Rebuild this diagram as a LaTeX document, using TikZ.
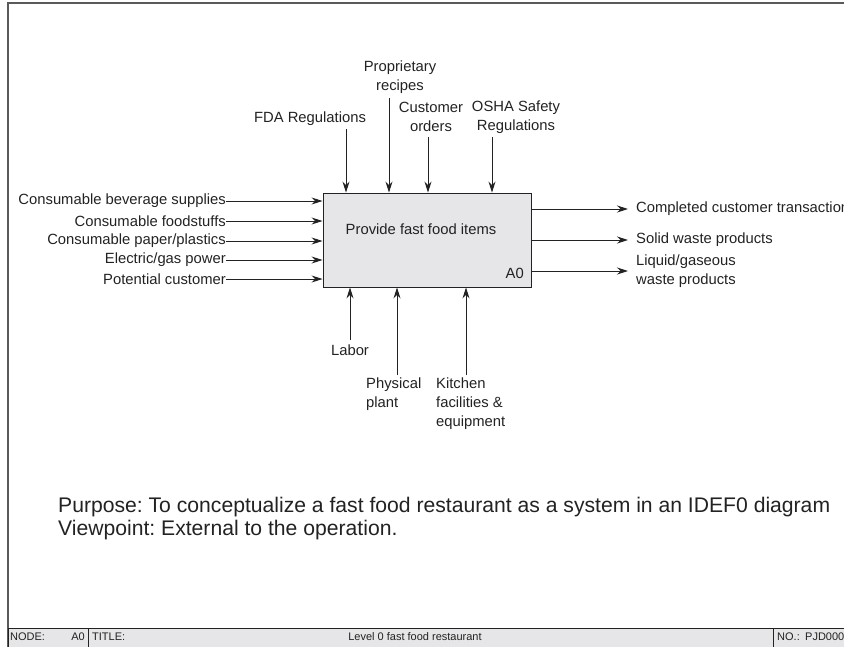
\documentclass[tikz,border=0pt]{standalone}
\usepackage{fontspec}
\setmainfont{Liberation Sans}
\usetikzlibrary{arrows.meta}
\definecolor{ink}{HTML}{222222}
\definecolor{framegray}{HTML}{5A5A5A}
\definecolor{boxfill}{HTML}{E6E6E8}
\frenchspacing
\newcommand\purposetext{Purpose: To conceptualize a fast food restaurant as a system in an IDEF0 diagram}
\newlength\purposewd
\begin{document}
% size the purpose line so that it spans 772pt
\settowidth{\purposewd}{\fontsize{20}{22}\selectfont\purposetext}
\pgfmathsetmacro\purposesize{20*772/\purposewd}
\begin{tikzpicture}[x=1pt,y=-1pt,
  flow/.style={draw=ink, line width=0.9pt, -{Stealth[length=11pt,width=7pt]}},
  lbl/.style={font=\fontsize{14.8}{19}\selectfont, text=ink, inner sep=0pt},
  bartext/.style={font=\fontsize{11}{12}\selectfont, text=ink, inner sep=0pt},
  bigtext/.style={font=\fontsize{\purposesize}{22}\selectfont, text=ink, inner sep=0pt, anchor=base west}]
\useasboundingbox (0,0) rectangle (844,646);
\clip (0,0) rectangle (844,646);

% sheet frame
\draw[framegray, line width=1.6pt] (8,660) |- (860,3);

% title bar
\draw[fill=boxfill, draw=ink, line width=0.8pt] (8,628) rectangle (860,660);
\draw[ink, line width=0.8pt] (88,628) -- (88,660) (773,628) -- (773,660);
\node[bartext, anchor=west] (nodelbl) at (10,637) {NODE:};
\node[bartext, anchor=east] (nodeval) at (85,637) {A0};
\node[bartext, anchor=west] (titlelbl) at (92,637) {TITLE:};
\node[bartext] (titleval) at (415,637) {Level 0 fast food restaurant};
\node[bartext, anchor=west] (nolbl) at (777,637) {NO.:};
\node[bartext, anchor=west] (noval) at (805,637) {PJD000};

% activity box
\node[draw=ink, fill=boxfill, line width=0.9pt, minimum width=208pt, minimum height=94pt, inner sep=0pt] (A0) at (427,240) {};
\node[lbl] (A0title) at (421,229) {Provide fast food items};
\node[lbl, anchor=south east] (A0num) at (524,279) {A0};

% inputs
\node[lbl, anchor=east] (in1) at (226,201) {Consumable beverage supplies};
\node[lbl, anchor=east] (in2) at (226,221) {Consumable foodstuffs};
\node[lbl, anchor=east] (in3) at (226,241) {Consumable paper/plastics};
\node[lbl, anchor=east] (in4) at (226,260) {Electric/gas power};
\node[lbl, anchor=east] (in5) at (226,279) {Potential customer};
\foreach \i in {1,...,5}
  \draw[flow] (in\i.east) -- (in\i.east -| A0.west);

% outputs
\node[lbl, anchor=west] (out1) at (636,209) {Completed customer transaction};
\node[lbl, anchor=west] (out2) at (636,240) {Solid waste products};
\node[lbl, anchor=west, align=left] (out3) at (636,271) {Liquid/gaseous\\waste products};
\coordinate (o1) at (A0.east |- out1.west);
\coordinate (o2) at (A0.east |- out2.west);
\coordinate (o3) at (A0.east |- out3.west);
\draw[flow] (o1) -- ([xshift=-8pt]out1.west);
\draw[flow] (o2) -- ([xshift=-8pt]out2.west);
\draw[flow] (o3) -- ([xshift=-8pt]out3.west);

% controls
\node[lbl] (c1) at (310,119) {FDA Regulations};
\node[lbl, align=center] (c2) at (400,77) {Proprietary\\recipes};
\node[lbl, align=center] (c3) at (431,117) {Customer\\orders};
\node[lbl, align=center] (c4) at (516,117) {OSHA Safety\\Regulations};
\coordinate (c1e) at (346,129);
\coordinate (c2e) at (389,98);
\coordinate (c3e) at (428,137);
\coordinate (c4e) at (492,137);
\draw[flow] (c1e) -- (c1e |- A0.north);
\draw[flow] (c2e) -- (c2e |- A0.north);
\draw[flow] (c3e) -- (c3e |- A0.north);
\draw[flow] (c4e) -- (c4e |- A0.north);

% mechanisms
\node[lbl] (m1) at (350,350) {Labor};
\node[lbl, align=left, anchor=north west] (m2) at (366,378) {Physical\\plant};
\node[lbl, align=left, anchor=north west] (m3) at (436,378) {Kitchen\\facilities \&\\equipment};
\coordinate (m1e) at (350,340);
\coordinate (m2e) at (397,375);
\coordinate (m3e) at (466,375);
\draw[flow] (m1e) -- (m1e |- A0.south);
\draw[flow] (m2e) -- (m2e |- A0.south);
\draw[flow] (m3e) -- (m3e |- A0.south);

% purpose and viewpoint
\node[bigtext] (purpose) at (58,512) {\purposetext};
\node[bigtext] (viewpoint) at (58,535) {Viewpoint: External to the operation.};
\end{tikzpicture}
\end{document}
